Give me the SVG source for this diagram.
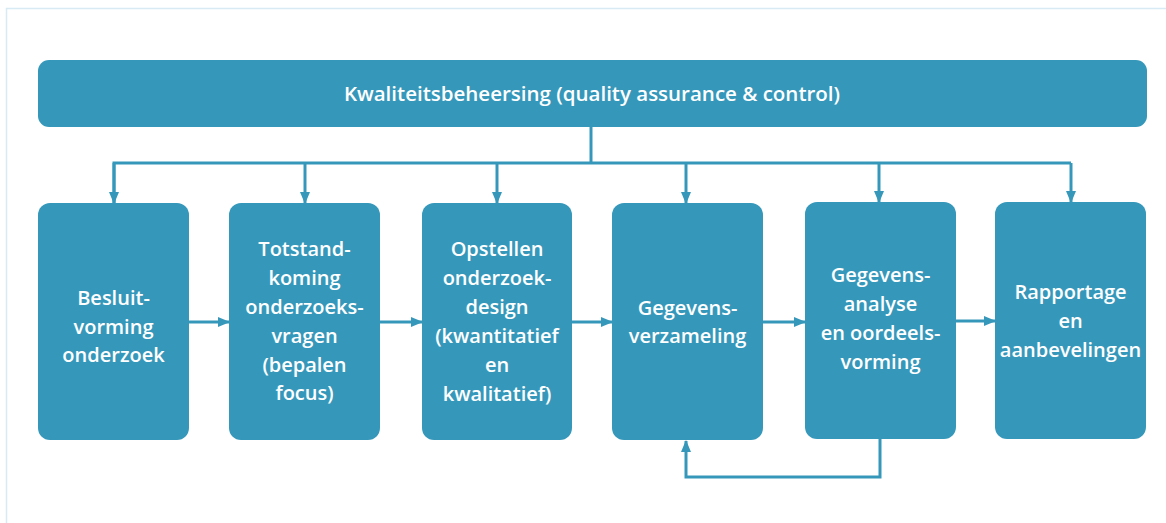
<svg xmlns="http://www.w3.org/2000/svg" width="1166" height="523" viewBox="0 0 1166 523">
  <style>
    .box { fill: #3598bb; }
    .lbl { fill: #ffffff; font-family: "Open Sans", Lato, "Liberation Sans", sans-serif; font-weight: 600; font-size: 20px; text-anchor: middle; }
    .title { font-size: 20.5px; }
    .wire { fill: none; stroke: #3598bb; stroke-width: 3; }
  </style>
  <defs>
    <marker id="arrow" viewBox="0 0 12 10" refX="11" refY="5" markerWidth="12" markerHeight="10" markerUnits="userSpaceOnUse" orient="auto">
      <path d="M0,0 L12,5 L0,10 Z" fill="#3598bb"/>
    </marker>
  </defs>

  <rect width="1166" height="523" fill="#ffffff"/>
  <!-- outer frame -->
  <path d="M6.5,523 V8.5 H1166" fill="none" stroke="#d8eaf4" stroke-width="1.5"/>

  <g id="kwaliteit">
    <rect class="box" x="38" y="60" width="1109" height="67" rx="11"/>
    <text class="lbl title" x="592" y="101">Kwaliteitsbeheersing (quality assurance &amp; control)</text>
  </g>

  <g id="besluitvorming">
    <rect class="box" x="38" y="203" width="151" height="237" rx="12"/>
    <text class="lbl" x="113.5" y="305">Besluit-</text>
    <text class="lbl" x="113.5" y="334">vorming</text>
    <text class="lbl" x="113.5" y="362">onderzoek</text>
  </g>

  <g id="onderzoeksvragen">
    <rect class="box" x="229" y="203" width="151" height="237" rx="12"/>
    <text class="lbl" x="304.5" y="256">Totstand-</text>
    <text class="lbl" x="304.5" y="285">koming</text>
    <text class="lbl" x="304.5" y="314">onderzoeks-</text>
    <text class="lbl" x="304.5" y="343">vragen</text>
    <text class="lbl" x="304.5" y="372">(bepalen</text>
    <text class="lbl" x="304.5" y="400">focus)</text>
  </g>

  <g id="onderzoeksdesign">
    <rect class="box" x="422" y="203" width="150" height="237" rx="12"/>
    <text class="lbl" x="497" y="256">Opstellen</text>
    <text class="lbl" x="497" y="285">onderzoek-</text>
    <text class="lbl" x="497" y="314">design</text>
    <text class="lbl" x="497" y="343">(kwantitatief</text>
    <text class="lbl" x="497" y="372">en</text>
    <text class="lbl" x="497" y="401">kwalitatief)</text>
  </g>

  <g id="verzameling">
    <rect class="box" x="612" y="203" width="151" height="237" rx="12"/>
    <text class="lbl" x="687.5" y="315">Gegevens-</text>
    <text class="lbl" x="687.5" y="343">verzameling</text>
  </g>

  <g id="analyse">
    <rect class="box" x="805" y="202" width="151" height="237" rx="12"/>
    <text class="lbl" x="880.5" y="282">Gegevens-</text>
    <text class="lbl" x="880.5" y="311">analyse</text>
    <text class="lbl" x="880.5" y="340">en oordeels-</text>
    <text class="lbl" x="880.5" y="369">vorming</text>
  </g>

  <g id="rapportage">
    <rect class="box" x="995" y="202" width="151" height="237" rx="12"/>
    <text class="lbl" x="1070.5" y="299">Rapportage</text>
    <text class="lbl" x="1070.5" y="328">en</text>
    <text class="lbl" x="1070.5" y="357">aanbevelingen</text>
  </g>

  <g id="connectors">
    <!-- distribution from quality control to every phase -->
    <path class="wire" d="M591,127 V163"/>
    <path class="wire" d="M114,203 V163 H1071"/>
    <path class="wire" d="M114,163 V203" marker-end="url(#arrow)"/>
    <path class="wire" d="M305,163 V203" marker-end="url(#arrow)"/>
    <path class="wire" d="M497,163 V203" marker-end="url(#arrow)"/>
    <path class="wire" d="M686,163 V203" marker-end="url(#arrow)"/>
    <path class="wire" d="M879,163 V202" marker-end="url(#arrow)"/>
    <path class="wire" d="M1071,163 V202" marker-end="url(#arrow)"/>
    <!-- sequential flow -->
    <path class="wire" d="M189,322 H229" marker-end="url(#arrow)"/>
    <path class="wire" d="M380,322 H422" marker-end="url(#arrow)"/>
    <path class="wire" d="M572,322 H612" marker-end="url(#arrow)"/>
    <path class="wire" d="M763,322 H805" marker-end="url(#arrow)"/>
    <path class="wire" d="M956,321 H995" marker-end="url(#arrow)"/>
    <!-- feedback loop from analysis back to collection -->
    <path class="wire" d="M880,439 V477 H686 V441" marker-end="url(#arrow)"/>
  </g>
</svg>
